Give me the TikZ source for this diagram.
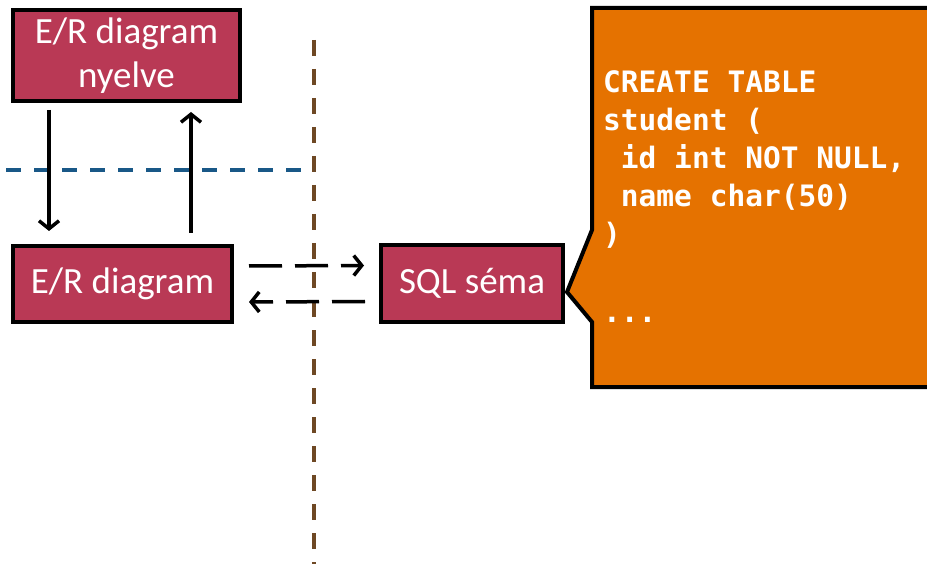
\documentclass[tikz,border=0pt]{standalone}
\usepackage{fontspec}
\setmainfont{Carlito}
\newfontfamily\codefont{DejaVu Sans Mono}
\usetikzlibrary{arrows.meta}
\definecolor{boxred}{RGB}{185,57,85}
\definecolor{callorange}{RGB}{229,114,0}
\definecolor{sepblue}{RGB}{25,88,135}
\definecolor{sepbrown}{RGB}{110,72,36}
\tikzset{
  redbox/.style={draw=black, line width=4pt, fill=boxred, text=white, align=center,
    font=\fontsize{37}{44}\selectfont, inner sep=0pt},
  arr/.style={line width=3.5pt, -{Straight Barb[length=8pt,width=20pt,line width=3.5pt]}},
  darr/.style={arr, dash pattern=on 33pt off 13pt},
  codeline/.style={anchor=base west, text=white, inner sep=0pt,
    font=\codefont\bfseries\fontsize{29.5}{38}\selectfont},
}
\begin{document}
\begin{tikzpicture}[x=1pt,y=-1pt]
\useasboundingbox (0,0) rectangle (927,564);
% separators
\draw[sepbrown, line width=4pt, dash pattern=on 16pt off 13pt] (314,40) coordinate (vtop) -- (314,564) coordinate (vbot);
\draw[sepblue, line width=4pt, dash pattern=on 15pt off 13pt] (6,170) coordinate (hl) -- (314,170) coordinate (hr);
% boxes
\node[redbox, minimum width=227pt, minimum height=91pt] (lang) at (126.5,55.5) {E/R diagram\\nyelve};
\node[redbox, minimum width=219pt, minimum height=76pt] (erd) at (122.5,284) {E/R diagram};
\node[redbox, minimum width=182pt, minimum height=77pt] (sql) at (472,283.5) {SQL séma};
% callout
\fill[callorange] (592,8) -- (940,8) -- (940,387) -- (592,387) -- (592,322) -- (567,292) -- (592,230) -- cycle;
\draw[black, line width=4pt, line join=miter] (940,8) -- (592,8) -- (592,230) -- (567,292) -- (592,322) -- (592,387) -- (940,387);
\node[codeline] (c1) at (603,93) {CREATE TABLE};
\node[codeline] (c2) at (603,131) {student (};
\node[codeline] (c3) at (603,169) {\hphantom{x}id int NOT NULL,};
\node[codeline] (c4) at (603,207) {\hphantom{x}name char(50)};
\node[codeline] (c5) at (603,245) {)};
\node[codeline] (c6) at (603,323) {...};
% arrows
\draw[arr] ([xshift=38pt,yshift=-7pt]lang.south west) -- ([xshift=38pt,yshift=13pt]erd.north west);
\draw[arr] ([xshift=180pt,yshift=11pt]erd.north west) -- ([xshift=180pt,yshift=-9pt]lang.south west);
\draw[darr] ([xshift=15pt,yshift=18pt]erd.east) -- ([xshift=-15pt,yshift=18pt]sql.west);
\draw[darr] ([xshift=-14pt,yshift=-18pt]sql.west) -- ([xshift=15pt,yshift=-18pt]erd.east);
\end{tikzpicture}
\end{document}
